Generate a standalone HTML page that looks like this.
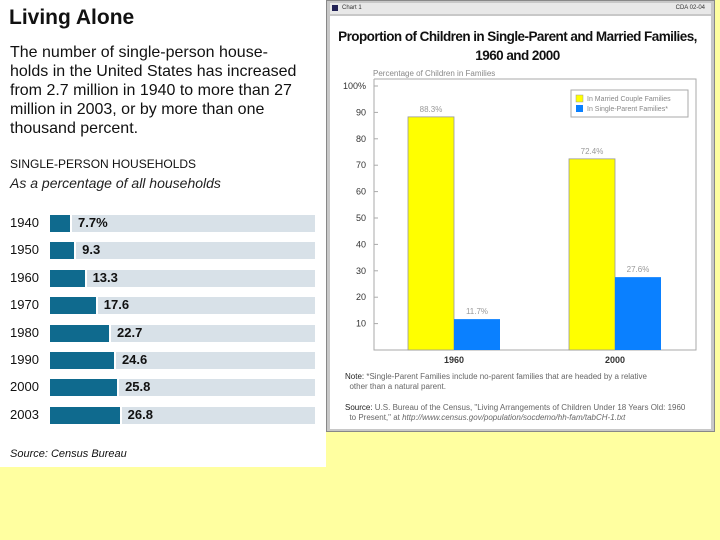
<!DOCTYPE html>
<html><head><meta charset="utf-8"><style>
body{margin:0;width:720px;height:540px;background:#ffffa0;position:relative;overflow:hidden;font-family:"Liberation Sans",sans-serif}
.abs{position:absolute}
</style></head><body>
<div class="abs" style="left:0;top:0;width:326px;height:467px;background:#fff"></div>
<div class="abs" style="left:9px;top:6px;font-size:21px;font-weight:bold;color:#111">Living Alone</div>
<div class="abs" style="left:10px;top:43px;width:316px;white-space:nowrap;font-size:16px;line-height:19px;color:#111">The number of single-person house-<br>holds in the United States has increased<br>from 2.7 million in 1940 to more than 27<br>million in 2003, or by more than one<br>thousand percent.</div>
<div class="abs" style="left:10px;top:157px;font-size:12px;color:#111">SINGLE-PERSON HOUSEHOLDS</div>
<div class="abs" style="left:10px;top:175px;font-size:14px;font-style:italic;color:#222">As a percentage of all households</div>
<div id="hbars"></div>
<div class="abs" style="left:10px;top:448px;font-size:11px;font-style:italic;color:#111">Source: Census Bureau</div>

<div class="abs" style="left:326px;top:0;width:389px;height:432px;background:#c8c8c8;border:1px solid #888;box-sizing:border-box"></div>
<div class="abs" style="left:330px;top:3px;width:381px;height:11px;background:#e8e8e8;font-size:6px;color:#333"><span style="position:absolute;left:12px;top:2px">Chart 1</span><span style="position:absolute;right:6px;top:2px">CDA 02-04</span><span style="position:absolute;left:2px;top:2px;width:6px;height:6px;background:#225"></span></div>
<div class="abs" style="left:330px;top:16px;width:381px;height:413px;background:#fff"></div>
<div class="abs" style="left:337px;top:27px;width:361px;text-align:center;white-space:nowrap;font-size:13.5px;letter-spacing:-0.55px;font-weight:bold;line-height:19px;color:#111">Proportion of Children in Single-Parent and Married Families,<br>1960 and 2000</div>
<div class="abs" style="left:373px;top:69px;font-size:8px;color:#888">Percentage of Children in Families</div>
<svg class="abs" id="vchart" style="left:0;top:0" width="720" height="540"></svg>
<div class="abs" style="left:345px;top:372px;font-size:8px;line-height:10px;color:#666"><span style="color:#222">Note:</span> *Single-Parent Families include no-parent families that are headed by a relative<br>&nbsp;&nbsp;other than a natural parent.</div>
<div class="abs" style="left:345px;top:403px;font-size:8px;line-height:10px;color:#666"><span style="color:#222">Source:</span> U.S. Bureau of the Census, "Living Arrangements of Children Under 18 Years Old: 1960<br>&nbsp;&nbsp;to Present," at <i>http://www.census.gov/population/socdemo/hh-fam/tabCH-1.txt</i></div>

<script>
const years=["1940","1950","1960","1970","1980","1990","2000","2003"];
const shares=[7.7,9.3,13.3,17.6,22.7,24.6,25.8,26.8];
const shareLabels=["7.7%","9.3","13.3","17.6","22.7","24.6","25.8","26.8"];
const hb=document.getElementById('hbars');
years.forEach((y,i)=>{
  const cy=223+i*27.4, x0=50, w=shares[i]*2.6;
  const row=document.createElement('div');
  
  
  row.className='abs';
  row.style.cssText=`left:0;top:${cy-9}px;width:326px;height:18px`;
  row.innerHTML=`<div style="position:absolute;left:10px;top:1px;font-size:13px;color:#111">${y}</div><div style="position:absolute;left:${x0}px;top:1px;width:265px;height:17px;background:#d8e1e8"></div><div style="position:absolute;left:${x0}px;top:1px;width:${w}px;height:17px;background:#0f6a8e;border-right:2px solid #fff"></div><div style="position:absolute;left:${x0+w+8}px;top:1px;font-size:13px;font-weight:bold;color:#111">${shareLabels[i]}</div>`;
  hb.appendChild(row);
});

const cats=["1960","2000"];
const married=[88.3,72.4];
const single=[11.7,27.6];
const marriedLabels=["88.3%","72.4%"];
const singleLabels=["11.7%","27.6%"];
const ticks=[10,20,30,40,50,60,70,80,90,100];
const svg=document.getElementById('vchart');
const NS='http://www.w3.org/2000/svg';
const Y=v=>350-v*2.64;
const X=i=>454+i*161;
const bw=46;
function el(t,a,txt){const e=document.createElementNS(NS,t);for(const k in a)e.setAttribute(k,a[k]);if(txt!=null)e.textContent=txt;svg.appendChild(e);return e;}
let f=el('path',{d:'M374 79 V350 H696 V79 H374',fill:'none',stroke:'#aaa','stroke-width':1});

ticks.forEach(t=>{
  let e=el('text',{x:366,y:Y(t)+3,'text-anchor':'end','font-size':9,fill:'#333','font-family':'Liberation Sans'},t===100?'100%':String(t));
  
  let l=el('line',{x1:374,x2:378,y1:Y(t),y2:Y(t),stroke:'#aaa'});
  
});
cats.forEach((c,i)=>{
  const cx=X(i);
  let b=el('rect',{x:cx-bw,y:Y(married[i]),width:bw,height:married[i]*2.64,fill:'#ffff00',stroke:'#999','stroke-width':0.8});
  
  let b2=el('rect',{x:cx,y:Y(single[i]),width:bw,height:single[i]*2.64,fill:'#0a80ff'});
  
  let t1=el('text',{x:cx-bw/2,y:Y(married[i])-5,'text-anchor':'middle','font-size':8,fill:'#999','font-family':'Liberation Sans'},marriedLabels[i]);
  
  let t2=el('text',{x:cx+bw/2,y:Y(single[i])-5,'text-anchor':'middle','font-size':8,fill:'#999','font-family':'Liberation Sans'},singleLabels[i]);
  
  let t3=el('text',{x:cx,y:363,'text-anchor':'middle','font-size':9,'font-weight':'bold',fill:'#333','font-family':'Liberation Sans'},c);
  
});
let lg=el('rect',{x:571,y:90,width:117,height:27,fill:'#fff',stroke:'#aaa'});

let s1=el('rect',{x:576,y:95,width:7,height:7,fill:'#ffff00',stroke:'#999','stroke-width':0.5});

let l1=el('text',{x:587,y:101,'font-size':7,fill:'#888','font-family':'Liberation Sans'},'In Married Couple Families');

let s2=el('rect',{x:576,y:105,width:7,height:7,fill:'#0a80ff'});

let l2=el('text',{x:587,y:111,'font-size':7,fill:'#888','font-family':'Liberation Sans'},'In Single-Parent Families*');

</script>
</body></html>
